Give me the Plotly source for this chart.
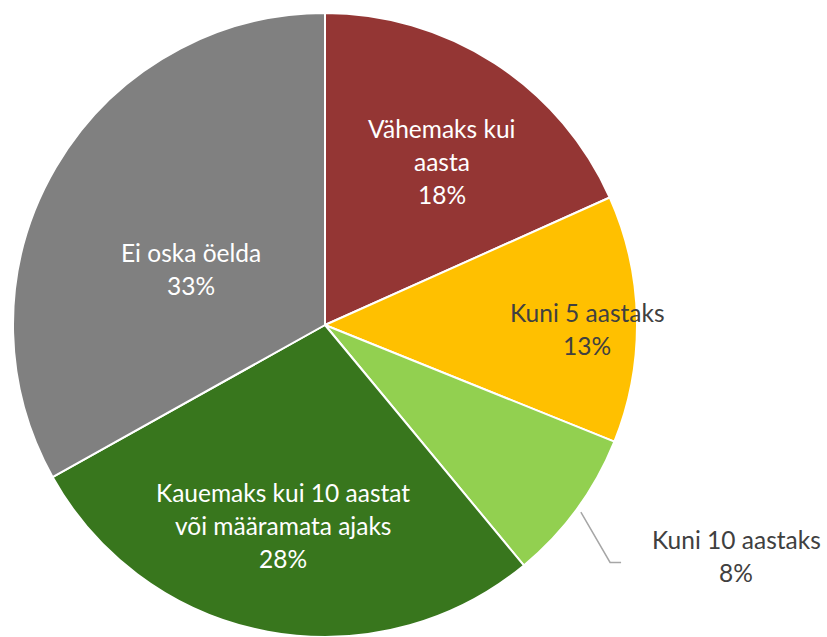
import math
import plotly.graph_objects as go

# ---- data ----
categories = [
    "Vähemaks kui aasta",
    "Kuni 5 aastaks",
    "Kuni 10 aastaks",
    "Kauemaks kui 10 aastat või määramata ajaks",
    "Ei oska öelda",
]
label_lines = [
    ["Vähemaks kui", "aasta"],
    ["Kuni 5 aastaks"],
    ["Kuni 10 aastaks"],
    ["Kauemaks kui 10 aastat", "või määramata ajaks"],
    ["Ei oska öelda"],
]
values = [18.3, 12.8, 7.9, 27.9, 33.1]

# ---- style ----
colors = ["#943634", "#FFC000", "#92D050", "#38761D", "#808080"]
text_colors = ["white", "#404040", "#404040", "white", "white"]
label_radius = [0.645, 0.84, 1.512, 0.656, 0.467]   # fraction of pie radius
label_nudge = [2.6, 2.0, -6.8, 1.3, -7.8]           # degrees
FONT = "Lato"
FS = 24.5
LINE_H = 33

W, H = 827, 637
top_px, R = 13, 312
cx, cy = 325, top_px + R

fig = go.Figure(go.Pie(
    labels=categories,
    values=values,
    sort=False,
    direction="clockwise",
    rotation=0,
    marker=dict(colors=colors, line=dict(color="white", width=2)),
    textinfo="none",
    hoverinfo="label+percent",
    showlegend=False,
    domain=dict(x=[(cx - R) / W, (cx + R) / W], y=[0, 1 - top_px / H]),
))

total = sum(values)
cum = 0
annotations = []
shapes = []
for i, v in enumerate(values):
    mid = (cum + v / 2) / total * 360
    cum += v
    ang = math.radians(mid + label_nudge[i])
    r = label_radius[i] * R
    lx = cx + r * math.sin(ang)
    ly = cy - r * math.cos(ang)
    lines = label_lines[i] + [f"{round(v / total * 100)}%"]
    n = len(lines)
    for j, t in enumerate(lines):
        py = ly + (j - (n - 1) / 2) * LINE_H
        annotations.append(dict(
            x=lx / W, y=1 - py / H, xref="paper", yref="paper",
            text=t, showarrow=False, xanchor="center", yanchor="middle",
            font=dict(family=FONT, size=FS, color=text_colors[i]),
        ))
    if label_radius[i] > 1:
        m = math.radians(mid)
        sx = cx + 1.016 * R * math.sin(m)
        sy = cy - 1.016 * R * math.cos(m)
        bx, by = lx - 126, ly + 6
        ex = bx + 11
        shapes.append(dict(
            type="path", xref="paper", yref="paper",
            path=f"M {sx / W},{1 - sy / H} L {bx / W},{1 - by / H} L {ex / W},{1 - by / H}",
            line=dict(color="#A6A6A6", width=1.5),
        ))

fig.update_layout(
    width=W, height=H,
    margin=dict(l=0, r=0, t=0, b=0),
    paper_bgcolor="white",
    plot_bgcolor="white",
    annotations=annotations,
    shapes=shapes,
)

fig.write_html("out.html", config={"displayModeBar": False})

# remove the browser's default page margin so the figure sits at (0, 0)
with open("out.html", encoding="utf-8") as f:
    html = f.read()
html = html.replace("<head>", "<head><style>html,body{margin:0;padding:0;overflow:hidden}</style>", 1)
with open("out.html", "w", encoding="utf-8") as f:
    f.write(html)
